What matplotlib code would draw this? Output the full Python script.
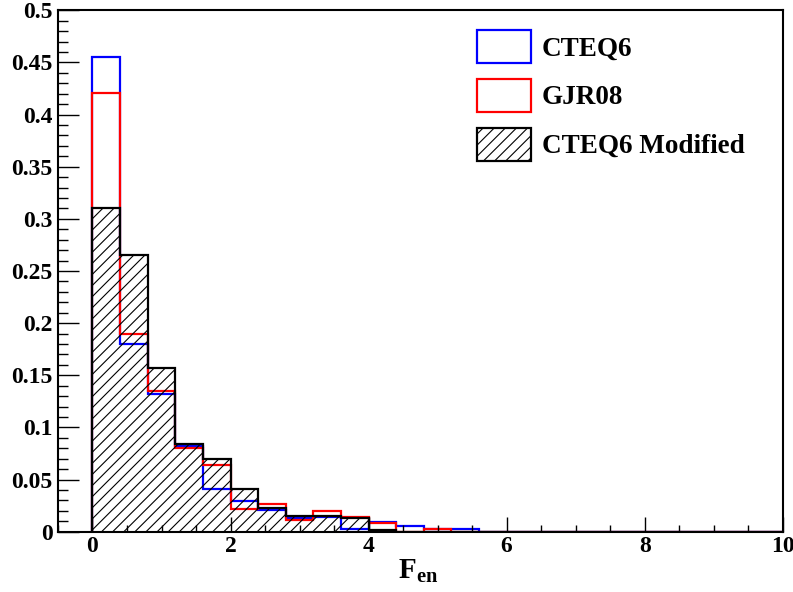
import numpy as np
import matplotlib
matplotlib.use("Agg")
import matplotlib.pyplot as plt
from matplotlib.patches import Patch
from matplotlib.ticker import MultipleLocator, FormatStrFormatter

plt.rcParams['font.family'] = ['Liberation Serif', 'DejaVu Serif']
plt.rcParams['font.weight'] = 'bold'
plt.rcParams['axes.labelweight'] = 'bold'
plt.rcParams['mathtext.fontset'] = 'custom'
plt.rcParams['mathtext.rm'] = 'Liberation Serif:bold'
plt.rcParams['mathtext.bf'] = 'Liberation Serif:bold'
plt.rcParams['mathtext.it'] = 'Liberation Serif:bold'
plt.rcParams['hatch.linewidth'] = 0.8

# bin edges: 25 bins of width 0.4 from 0 to 10
edges = np.linspace(0, 10, 26)

cteq6 = [0.455, 0.180, 0.132, 0.082, 0.041, 0.029, 0.021, 0.013, 0.014, 0.003,
         0.009, 0.0058, 0.0025, 0.0026, 0, 0, 0, 0, 0, 0, 0, 0, 0, 0, 0]
gjr08 = [0.421, 0.190, 0.135, 0.080, 0.064, 0.022, 0.027, 0.011, 0.0195, 0.0137,
         0.008, 0.0, 0.0026, 0, 0, 0, 0, 0, 0, 0, 0, 0, 0, 0, 0]
cteq6_mod = [0.310, 0.265, 0.157, 0.084, 0.070, 0.041, 0.023, 0.0147, 0.0147, 0.0128,
             0.002, 0, 0, 0, 0, 0, 0, 0, 0, 0, 0, 0, 0, 0, 0]

fig = plt.figure(figsize=(7.93, 5.92), dpi=100)
ax = fig.add_axes([0.0731, 0.1019, 0.9139, 0.8807])

ax.stairs(cteq6, edges, color='blue', linewidth=1.6)
ax.stairs(gjr08, edges, color='red', linewidth=1.6)
ax.stairs(cteq6_mod, edges, fill=True, facecolor='none', edgecolor='black',
          hatch='///', linewidth=1.6)

ax.set_xlim(-0.5, 10)
ax.set_ylim(0, 0.5)

ax.xaxis.set_major_locator(MultipleLocator(2))
ax.xaxis.set_minor_locator(MultipleLocator(0.5))
ax.yaxis.set_major_locator(MultipleLocator(0.05))
ax.yaxis.set_minor_locator(MultipleLocator(0.01))
ax.yaxis.set_major_formatter(FormatStrFormatter('%g'))
ax.xaxis.set_major_formatter(FormatStrFormatter('%g'))

ax.tick_params(axis='both', which='both', direction='in', top=False, right=False,
               labelsize=17, width=1)
ax.tick_params(axis='y', which='major', length=15, pad=4)
ax.tick_params(axis='y', which='minor', length=7.5)
ax.tick_params(axis='x', which='major', length=11, pad=3)
ax.tick_params(axis='x', which='minor', length=5)
for s in ax.spines.values():
    s.set_linewidth(1.5)

ax.set_xlabel(r'F$_{\mathbf{en}}$', fontsize=21, fontweight='bold', labelpad=0)
ax.xaxis.set_label_coords(0.497, -0.05)

handles = [
    Patch(facecolor='none', edgecolor='blue', linewidth=1.6, label='CTEQ6'),
    Patch(facecolor='none', edgecolor='red', linewidth=1.6, label='GJR08'),
    Patch(facecolor='none', edgecolor='black', linewidth=1.6, hatch='///',
          label='CTEQ6 Modified'),
]
leg = ax.legend(handles=handles, loc='upper left', bbox_to_anchor=(0.578, 0.962),
                frameon=False, fontsize=19.5, handlelength=2.0, handleheight=1.5,
                labelspacing=0.58, handletextpad=0.4, borderpad=0, borderaxespad=0)

fig.savefig('out.png', dpi=100)
